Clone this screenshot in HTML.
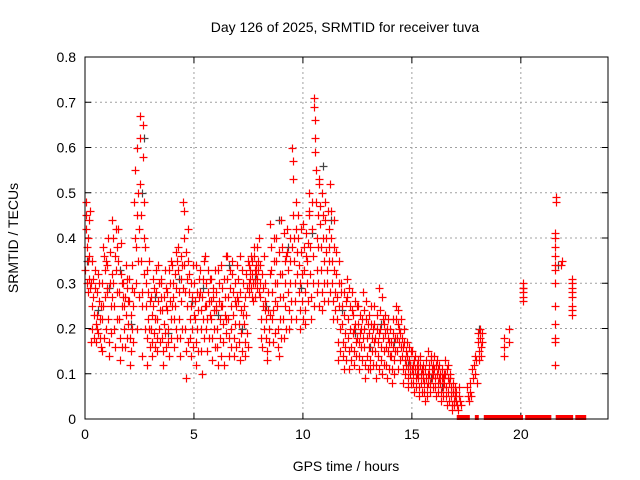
<!DOCTYPE html>
<html><head><meta charset="utf-8"><style>
html,body{margin:0;padding:0;background:#fff;}
svg{display:block;font-family:"Liberation Sans",sans-serif;}
</style></head><body>
<svg id="chart" width="640" height="480">
<rect width="640" height="480" fill="#fff"/>
<text x="345" y="32" font-size="14" text-anchor="middle">Day 126 of 2025, SRMTID for receiver tuva</text>
<text x="346" y="471" font-size="14" text-anchor="middle">GPS time / hours</text>
<text transform="translate(18,238) rotate(-90)" font-size="14" text-anchor="middle">SRMTID / TECUs</text>
<g id="grid"></g><g id="ticks"></g><g id="marks"></g>
<rect x="85" y="57" width="523" height="362" fill="none" stroke="#000" stroke-width="1"/>
</svg>
<script>
const xTicks=[0,5,10,15,20];
const yTicks=[0,0.1,0.2,0.3,0.4,0.5,0.6,0.7,0.8];
const yTickLabels=["0","0.1","0.2","0.3","0.4","0.5","0.6","0.7","0.8"];
const binStarts=[0,0.25,0.5,0.75,1,1.25,1.5,1.75,2,2.25,2.5,2.75,3,3.25,3.5,3.75,4,4.25,4.5,4.75,5,5.25,5.5,5.75,6,6.25,6.5,6.75,7,7.25,7.5,7.75,8,8.25,8.5,8.75,9,9.25,9.5,9.75,10,10.25,10.5,10.75,11,11.25,11.5,11.75,12,12.25,12.5,12.75,13,13.25,13.5,13.75,14,14.25,14.5,14.75,15,15.25,15.5,15.75,16,16.25,16.5,16.75,17,17.5,17.75,18];
const binValues=[
[33,42,48,45,30,38,28,35,40,44,31,36,29,46],[30,17,25,20,35,27,31,23,18,29,33,21],[17,20,23,28,32,19,26,30,22,18,25,16],[15,22,30,38,25,18,36,33,27,20,35,29],
[28,34,40,22,17,14,30,37,25,19,32,27],[44,40,30,25,20,16,36,42,33,28,22,38],[42,35,28,22,13,18,32,39,30,25,16,27],[30,25,20,16,27,34,23,29,18,31,21,26],
[31,26,12,18,23,15,29,34,20,25,17,28],[48,55,40,38,30,20,45,60,35,50,42,27],[67,62,52,45,35,25,14,28,65,58,48,40,32,20],[38,30,25,18,12,33,22,28,20,35,16,26],
[27,20,17,14,23,31,25,19,29,16,22,33],[28,22,18,15,26,34,30,20,24,17,31,27],[30,24,18,15,12,21,27,33,19,25,16,29],[28,24,20,17,14,33,26,30,22,18,35,25],
[34,30,27,22,16,25,32,37,20,29,18,35],[38,33,28,22,18,14,36,31,26,20,34,29],[48,46,40,34,28,20,15,9,37,31,25,17,35,42],[32,28,22,18,14,25,30,20,27,16,34,23],
[30,26,22,17,12,34,28,20,24,15,31,27],[33,28,24,20,15,10,27,31,22,18,35,25],[36,30,25,20,15,22,33,28,18,26,31,23],[31,26,22,18,13,27,29,24,20,16,33,25],
[28,24,20,16,12,33,26,30,22,18,14,25],[34,29,25,21,17,12,31,27,23,19,36,22],[36,31,27,22,18,14,33,29,25,20,16,35],[32,28,23,18,14,26,30,21,25,16,34,27],
[31,26,21,17,13,36,28,24,19,15,33,23],[30,25,21,17,14,27,32,23,19,29,16,35],[34,30,28,33,31,29,36,32,27,35,30,26,38],[36,33,30,27,32,34,38,31,29,35,33,28,40],
[34,30,27,22,18,16,32,25,29,20,36,24],[30,26,22,18,15,13,28,24,20,17,32,23],[43,38,33,28,22,17,24,40,35,30,26,19],[40,35,30,25,20,16,14,37,32,27,22,18],
[44,38,32,27,22,18,41,35,30,25,20,36],[42,37,33,28,24,20,40,35,30,26,22,38],[60,57,53,45,40,35,30,26,22,48,42,37,32],[45,40,34,28,24,20,30,42,37,32,26,22],
[43,38,33,28,24,21,36,41,35,30,26,39],[46,50,45,38,32,27,22,48,42,36,30,25],[71,69,66,62,59,55,48,40,33,28,45,38,30,25,52],[53,47,43,38,33,28,24,50,45,40,35,30,26],
[48,44,40,37,33,30,26,46,42,38,35,28],[52,46,40,35,30,26,22,44,38,33,28,24],[37,32,27,22,17,13,35,30,25,20,15,28],[30,25,21,17,14,11,28,23,19,16,13,26],
[31,27,22,18,15,11,29,25,20,16,13,24],[28,23,19,15,12,20,26,21,17,14,25,18],[25,21,17,14,11,19,23,20,16,13,22,18],[28,24,20,16,12,9,26,22,18,14,11,21],
[23,19,16,13,11,21,25,18,15,12,20,17],[25,21,18,15,12,9,23,20,17,14,11,19],[29,24,20,16,13,10,27,22,18,15,12,21],[23,19,16,12,9,20,22,18,15,11,17,14],
[20,17,14,11,8,22,19,16,13,10,18,15],[25,22,18,15,11,21,24,20,17,13,19,16],[22,18,14,11,8,16,20,17,13,10,15,12],[17,14,11,9,7,13,16,12,10,8,15,11],
[15,12,10,8,6,13,14,11,9,7,12,10],[13,11,9,7,5,14,12,10,8,6,11,9],[12,10,8,6,4,11,13,9,7,5,10,8],[15,12,10,8,6,13,14,11,9,7,12,10],
[14,11,9,7,5,12,13,10,8,6,11,9],[12,10,8,6,4,9,11,9,7,5,10,8],[13,10,7,5,3,11,12,9,6,4,8,10],[9,7,5,3,2,6,8,6,4,3,7,5],
[6,4,3,2,5,7,4,3],[7,5,4,6,8,5],[11,9,12,14,10,13,8],[19,17,15,13,18,20,16,14,19,17]];
const sparseTimes=[19.25,19.25,19.25,19.45,19.45,20.08,20.1,20.12,20.1,20.08,20.11,21.55,21.55,21.56,21.55,21.57,21.55,21.56,21.55,21.55,21.56,21.55,21.56,21.6,21.6,21.85,21.9,22.33,22.35,22.36,22.35,22.34,22.36,22.35,22.37];
const sparseValues=[16,14,18,20,17,30,29,28,27,26,29,41,40,38,36,34,33,30,25,21,18,17,12,49,48,34,35,31,30,29,28,27,25,23,24];
const greyTimes=[0.1,0.6,1.1,1.6,2.1,2.6,2.7,3.2,3.8,4.3,4.9,5.4,6.1,6.6,7.2,7.8,8.3,8.9,9.3,9.9,10.4,10.9,11.3,11.8,12.4,13.1,13.6,14.2,14.8,15.3,15.9,16.4,18.1,21.7];
const greyValues=[35,24,29,33,21,50,62,27,19,31,26,29,23,34,20,31,25,44,38,29,41,56,44,24,19,16,21,17,12,10,9,7,20,34];
const zeroStart=[17.06,17.89,18.3,20.2,21.6,22.5];
const zeroEnd=[17.66,18.07,20.1,21.4,22.4,23.0];
const X0=85,X1=608,Y0=419,Y1=57,XMAX=24,YMAX=0.8;
const xs=t=>X0+(X1-X0)*t/XMAX;
const ys=v=>Y0-(Y0-Y1)*v/YMAX;
const NS="http://www.w3.org/2000/svg";
function mk(tag,at,parent){const e=document.createElementNS(NS,tag);for(const k in at)e.setAttribute(k,at[k]);parent.appendChild(e);return e;}
const grid=document.getElementById('grid'),ticks=document.getElementById('ticks'),marks=document.getElementById('marks');
xTicks.forEach((t,i)=>{const x=xs(t);
 if(i>0){const g=mk('line',{x1:x,x2:x,y1:Y0,y2:Y1,stroke:'#a0a0a0','stroke-dasharray':'2,3'},grid);}
 mk('line',{x1:x,x2:x,y1:Y0,y2:Y0-6,stroke:'#000'},ticks);mk('line',{x1:x,x2:x,y1:Y1,y2:Y1+6,stroke:'#000'},ticks);
 const l=mk('text',{x:x,y:Y0+20,'font-size':14,'text-anchor':'middle'},ticks);l.textContent=String(t);
 });
yTicks.forEach((v,i)=>{const y=ys(v);
 if(i>0&&i<yTicks.length-1){const g=mk('line',{x1:X0,x2:X1,y1:y,y2:y,stroke:'#a0a0a0','stroke-dasharray':'2,3'},grid);}
 mk('line',{x1:X0,x2:X0+6,y1:y,y2:y,stroke:'#000'},ticks);mk('line',{x1:X1,x2:X1-6,y1:y,y2:y,stroke:'#000'},ticks);
 const l=mk('text',{x:X0-9,y:y+5,'font-size':14,'text-anchor':'end'},ticks);l.textContent=yTickLabels[i];
 });
function cross(t,v,col,name){const x=Math.round(xs(t))+0.5,y=Math.round(ys(v))+0.5;
 const p=mk('path',{d:`M${x-4} ${y}h8M${x} ${y-4}v8`,stroke:col,'stroke-width':1.2,fill:'none'},marks);
 
 }
greyTimes.forEach((t,i)=>cross(t,greyValues[i]/100,'#444','grey-point'));
binStarts.forEach((b,i)=>{const vals=binValues[i];const w=(i+1<binStarts.length?Math.min(binStarts[i+1]-b,0.25):0.25);
 vals.forEach((v,j)=>cross(b+w*(j+0.5)/vals.length,v/100,'#ff0000','srmtid-point'));});
sparseTimes.forEach((t,i)=>cross(t,sparseValues[i]/100,'#ff0000','srmtid-point'));
zeroStart.forEach((s,i)=>{const r=mk('rect',{x:xs(s),y:ys(0)-4,width:xs(zeroEnd[i])-xs(s),height:5,fill:'#ff0000'},marks);
 
 });
</script>
</body></html>
